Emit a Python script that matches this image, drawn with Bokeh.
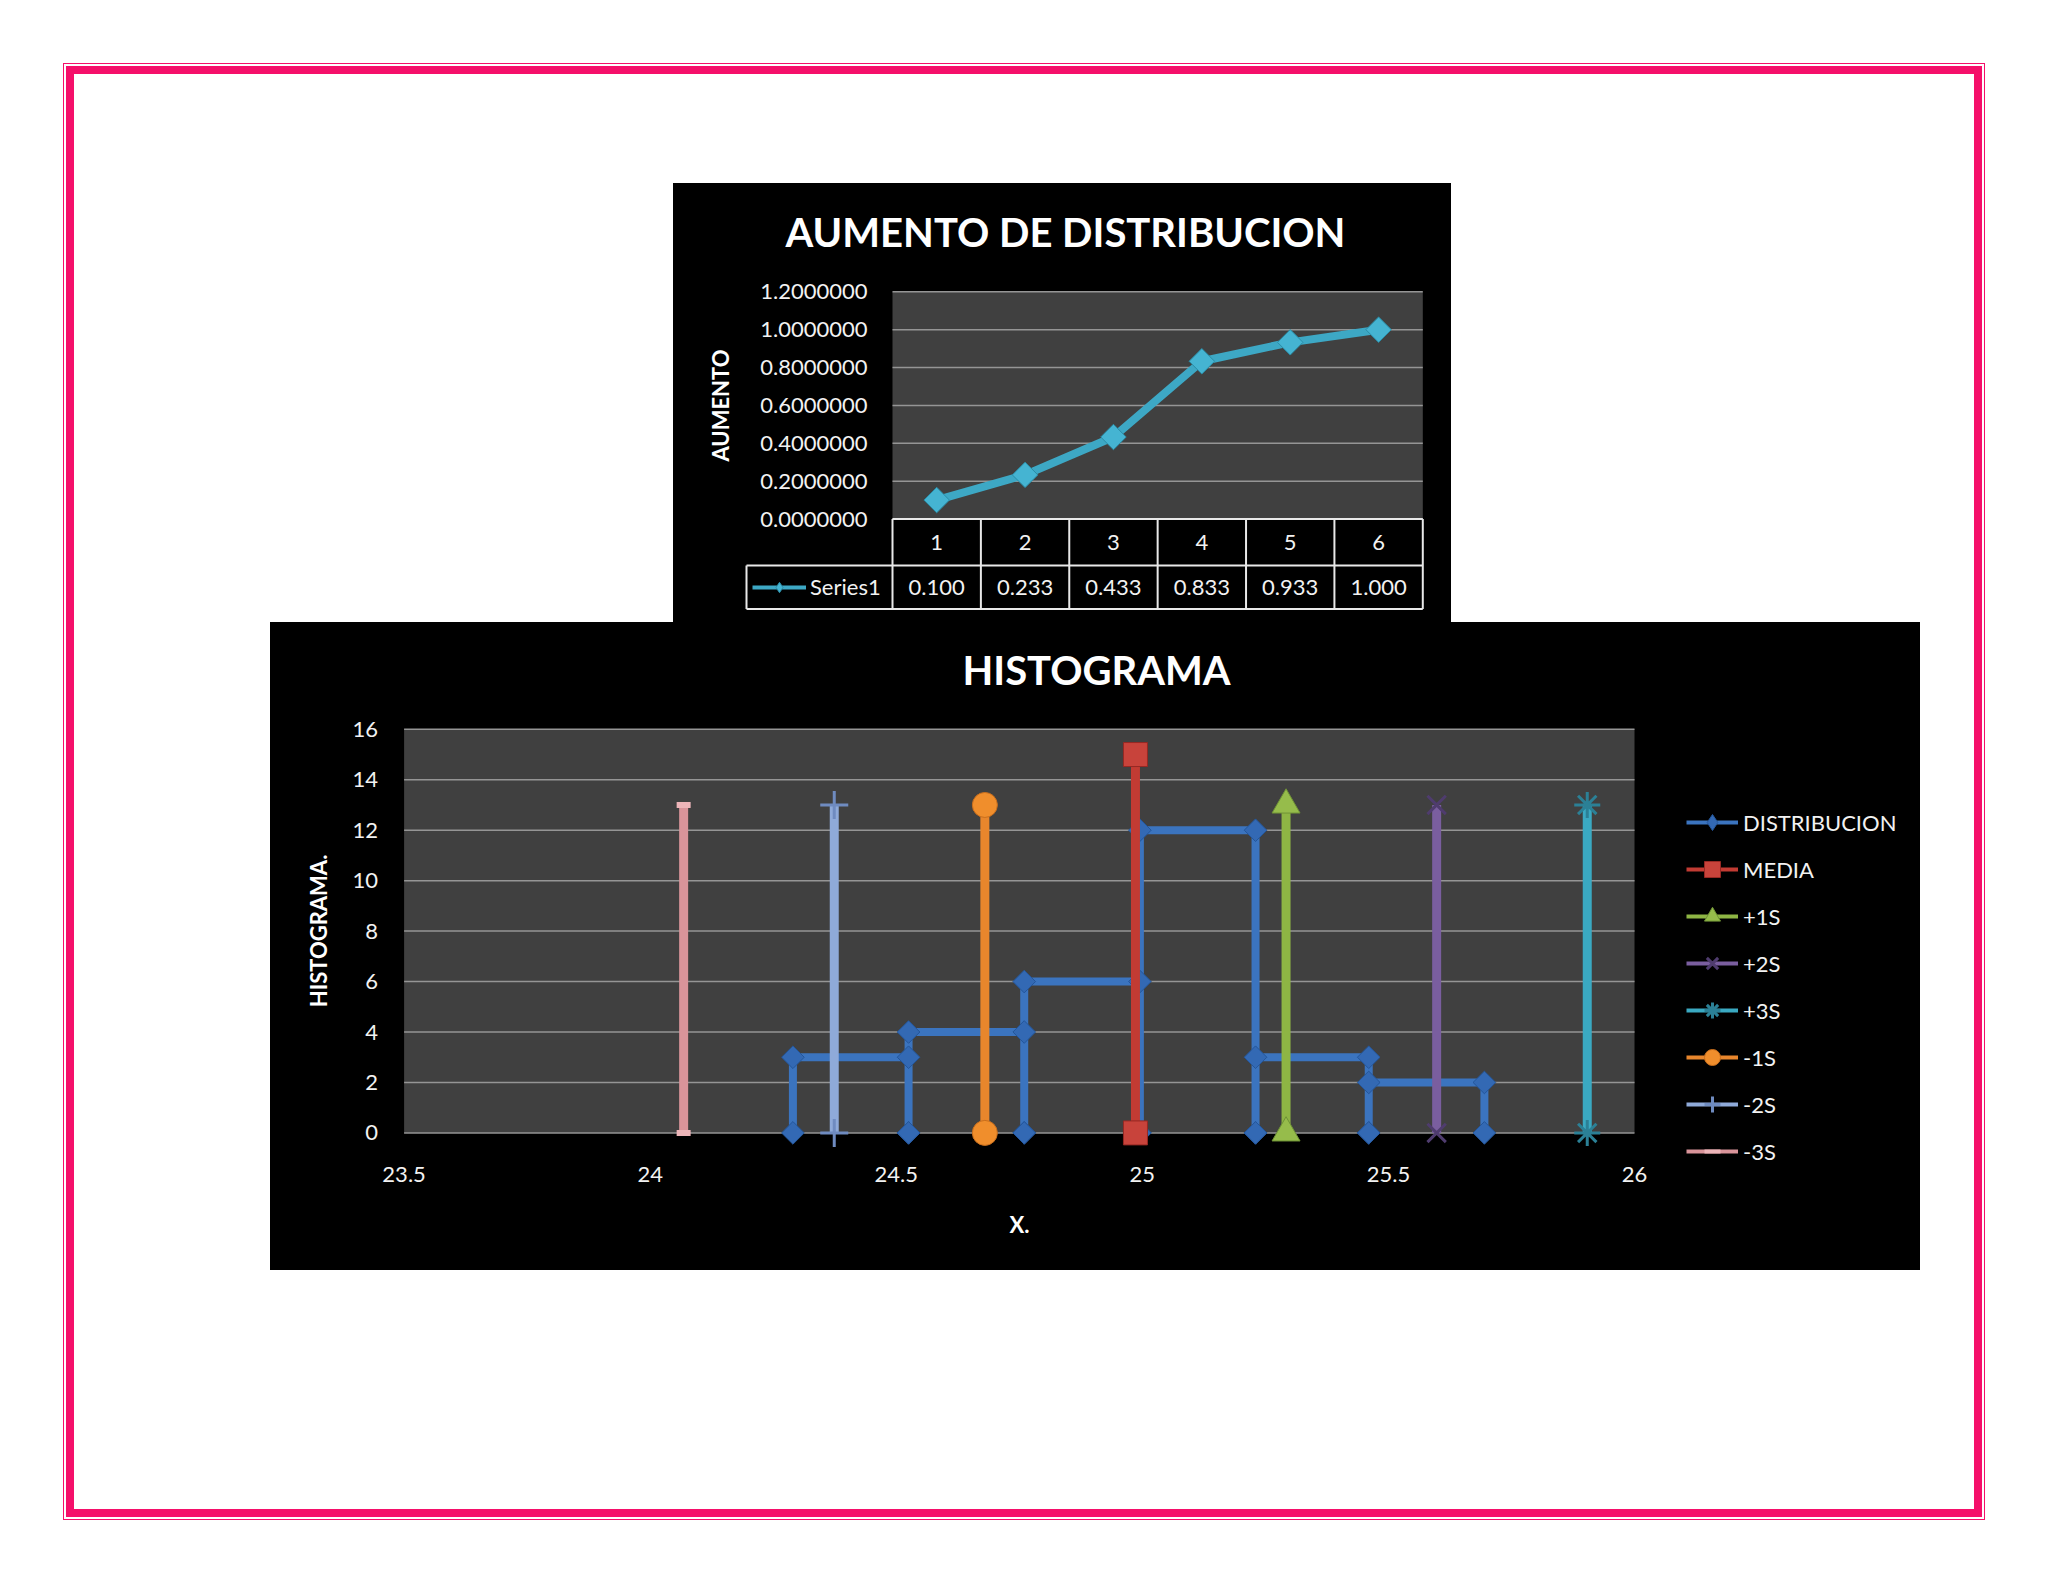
import math
from bokeh.plotting import figure
from bokeh.models import (FixedTicker, PrintfTickFormatter, CustomJSTickFormatter,
                          Legend, LegendItem)
from bokeh.layouts import column
from bokeh.embed import file_html
from bokeh.resources import INLINE
from bokeh.core.properties import value

# ---------------- data: AUMENTO DE DISTRIBUCION ----------------
aum_categories = ["1", "2", "3", "4", "5", "6"]
aum_values = [0.100, 0.233, 0.433, 0.833, 0.933, 1.000]
aum_yticks = [0.0, 0.2, 0.4, 0.6, 0.8, 1.0, 1.2]
aum_series_name = "Series1"

# ---------------- data: HISTOGRAMA ----------------
bin_edges = [24.29, 24.525, 24.76, 24.995, 25.23, 25.46, 25.695]
bin_counts = [3, 4, 6, 12, 3, 2]
ref_names = ["MEDIA", "+1S", "+2S", "+3S", "-1S", "-2S", "-3S"]
ref_x = [24.986, 25.292, 25.598, 25.904, 24.680, 24.374, 24.068]
ref_low = [0, 0, 0, 0, 0, 0, 0]
ref_high = [15, 13, 13, 13, 13, 13, 13]
hist_xticks = [23.5, 24.0, 24.5, 25.0, 25.5, 26.0]
hist_yticks = [0, 2, 4, 6, 8, 10, 12, 14, 16]

# ---------------- style ----------------
FONT = "Lato"
PINK = "#F50F6A"
PLOT_BG = "#404040"
GRID = "#959595"
TXT = "#F2F2F2"
TABLE_LINE = "#E8E8E8"
TEAL_TOP = "#3DA8C5"
NAN = float("nan")

ref_style = {
    "MEDIA": dict(color="#C23B33", marker="square", size=24, lsize=18, fill="#C8433B", edge="#962823", lw=1),
    "+1S": dict(color="#8EB544", marker="triangle", size=28, lsize=22, fill="#96BC4B", edge="#6F9236", lw=1),
    "+2S": dict(color="#7A5E9F", marker="x", size=26, lsize=20, fill="#4F3C6E", edge="#4F3C6E", lw=3),
    "+3S": dict(color="#3AA9C2", marker="asterisk", size=26, lsize=20, fill="#2B8096", edge="#2B8096", lw=3),
    "-1S": dict(color="#E8862C", marker="circle", size=25, lsize=20, fill="#F08E2C", edge="#C96E1C", lw=1),
    "-2S": dict(color="#8FAAD9", marker="cross", size=28, lsize=22, fill="#6F8BC0", edge="#6F8BC0", lw=3),
    "-3S": dict(color="#D9949A", marker="dash", size=14, lsize=12, fill="#EDB5B9", edge="#EDB5B9", lw=6),
}
DIST_COLOR = "#3B74BF"
DIST_MARK = "#3369B4"


def no_align(p):
    if "frame_align" in p.properties():
        p.frame_align = False


def legend_proxy(p, color, marker, size, fill, edge, lw):
    """Legend-only renderers (thin line + marker), drawn nowhere on the chart."""
    pl = p.line(x=[NAN], y=[NAN], line_width=4, color=color)
    pm = p.scatter(x=[NAN], y=[NAN], marker=marker, size=size, fill_color=fill,
                   line_color=edge, line_width=min(lw, 4))
    return [pl, pm]


# ================= top chart =================
T_W, T_H = 778, 439
T_FL, T_FR, T_FT, T_FB = 27, 767, 88, 433          # frame edges (figure-local px)
T_PX0, T_PX1 = 219.0, 749.3                        # x of plot-area left / right
T_PY_TOP, T_PY0 = 108.3, 335.5                     # y of 1.2 and of 0
x_lo, x_hi = 0.5, 6.5
y_top = aum_yticks[-1]
CELL_PX = (T_PX1 - T_PX0) / (x_hi - x_lo)
Y_PX = (T_PY0 - T_PY_TOP) / y_top
t_x0 = x_lo + (T_FL - T_PX0) / CELL_PX
t_x1 = x_lo + (T_FR - T_PX0) / CELL_PX
t_y1 = y_top + (T_PY_TOP - T_FT) / Y_PX
t_y0 = -(T_FB - T_PY0) / Y_PX
TBL_MID = -(382.0 - T_PY0) / Y_PX
TBL_BOT = -(425.5 - T_PY0) / Y_PX
CELL_LEFT = x_lo - (T_PX0 - 73.0) / CELL_PX

p1 = figure(width=T_W, height=T_H, x_range=(t_x0, t_x1), y_range=(t_y0, t_y1),
            output_backend="svg", toolbar_location=None, x_axis_location=None,
            min_border_left=T_FL, min_border_right=T_W - T_FR, min_border_top=T_FT,
            min_border_bottom=T_H - T_FB,
            background_fill_color="black", border_fill_color="black", outline_line_color=None,
            title="AUMENTO DE DISTRIBUCION", styles={"background-color": "black"})
no_align(p1)
p1.title.text_font = FONT
p1.title.text_font_size = "40px"
p1.title.text_font_style = "bold"
p1.title.text_color = "white"
p1.title.align = "left"
p1.title.offset = 85
p1.title.standoff = 31

# plot area background + grid lines
p1.quad(left=[x_lo], right=[x_hi], bottom=[0], top=[y_top], fill_color=PLOT_BG,
        line_color=None, level="image")
p1.segment(x0=[x_lo] * len(aum_yticks), y0=aum_yticks, x1=[x_hi] * len(aum_yticks),
           y1=aum_yticks, line_color=GRID, line_width=1.5, level="underlay")
p1.xgrid.visible = False
p1.ygrid.visible = False

yax = p1.yaxis[0]
yax.fixed_location = x_lo
yax.ticker = FixedTicker(ticks=aum_yticks)
yax.formatter = PrintfTickFormatter(format="%.7f")
yax.bounds = (0, y_top)
yax.axis_line_color = None
yax.major_tick_line_color = None
yax.minor_tick_line_color = None
yax.major_label_standoff = 19
yax.major_label_text_font = FONT
yax.major_label_text_font_size = "22px"
yax.major_label_text_color = TXT
yax.axis_label = "AUMENTO"
yax.axis_label_text_font = FONT
yax.axis_label_text_font_size = "22px"
yax.axis_label_text_font_style = "bold"
yax.axis_label_text_color = "white"
yax.axis_label_standoff = 23

xs = [i + 1 for i in range(len(aum_categories))]
p1.line(x=xs, y=aum_values, line_width=8, color=TEAL_TOP)
p1.scatter(x=xs, y=aum_values, marker="square", angle=math.pi / 4, size=18,
           fill_color="#45B4D2", line_color="#2A8CA6", line_width=1)

# data table under the chart
n = len(aum_categories)
v_edges = [x_lo + i for i in range(n + 1)]
p1.segment(x0=v_edges, y0=[0] * (n + 1), x1=v_edges, y1=[TBL_BOT] * (n + 1),
           line_color=TABLE_LINE, line_width=2)
p1.segment(x0=[x_lo, CELL_LEFT, CELL_LEFT], y0=[0, TBL_MID, TBL_BOT],
           x1=[x_hi] * 3, y1=[0, TBL_MID, TBL_BOT],
           line_color=TABLE_LINE, line_width=2)
p1.segment(x0=[CELL_LEFT], y0=[TBL_MID], x1=[CELL_LEFT], y1=[TBL_BOT],
           line_color=TABLE_LINE, line_width=2)
p1.text(x=xs, y=[TBL_MID / 2] * n, text=aum_categories, text_font=value(FONT),
        text_font_size="22px", text_color=TXT, text_align="center", text_baseline="middle")
p1.text(x=xs, y=[(TBL_MID + TBL_BOT) / 2] * n, text=[f"{v:.3f}" for v in aum_values],
        text_font=value(FONT), text_font_size="22px", text_color=TXT,
        text_align="center", text_baseline="middle")

leg1 = Legend(items=[LegendItem(label=aum_series_name,
                                renderers=legend_proxy(p1, TEAL_TOP, "diamond", 22, "#45B4D2",
                                                       "#2A8CA6", 1))],
              location=(52, 16), padding=0, margin=0, spacing=0,
              glyph_width=54, glyph_height=26, label_height=26, label_standoff=4,
              border_line_color=None, background_fill_alpha=0,
              label_text_font=FONT, label_text_font_size="22px", label_text_color=TXT)
p1.add_layout(leg1, "center")

# ================= histogram =================
H_W, H_H = 1650, 648
H_FL, H_FR, H_FT, H_FB = 20, 1640, 90, 630        # frame edges (figure-local px)
H_PX0, H_PX1 = 133.6, 1364.0                      # x of 23.5 and of 26
H_PY_TOP, H_PY0 = 106.8, 510.4                    # y of 16 and of 0
hx_lo, hx_hi = hist_xticks[0], hist_xticks[-1]
hy_top = hist_yticks[-1]
HX_PX = (H_PX1 - H_PX0) / (hx_hi - hx_lo)
HY_PX = (H_PY0 - H_PY_TOP) / hy_top
h_x0 = hx_lo + (H_FL - H_PX0) / HX_PX
h_x1 = hx_lo + (H_FR - H_PX0) / HX_PX
h_y1 = hy_top + (H_PY_TOP - H_FT) / HY_PX
h_y0 = -(H_FB - H_PY0) / HY_PX

p2 = figure(width=H_W, height=H_H, x_range=(h_x0, h_x1), y_range=(h_y0, h_y1),
            output_backend="svg", toolbar_location=None,
            min_border_left=H_FL, min_border_right=H_W - H_FR, min_border_top=H_FT,
            min_border_bottom=H_H - H_FB,
            background_fill_color="black", border_fill_color="black", outline_line_color=None,
            title="HISTOGRAMA", styles={"background-color": "black"})
no_align(p2)
p2.title.text_font = FONT
p2.title.text_font_size = "40px"
p2.title.text_font_style = "bold"
p2.title.text_color = "white"
p2.title.align = "left"
p2.title.offset = 672
p2.title.standoff = 38

p2.quad(left=[hx_lo], right=[hx_hi], bottom=[0], top=[hy_top], fill_color=PLOT_BG,
        line_color=None, level="image")
p2.segment(x0=[hx_lo] * len(hist_yticks), y0=hist_yticks, x1=[hx_hi] * len(hist_yticks),
           y1=hist_yticks, line_color=GRID, line_width=1.5, level="underlay")
p2.xgrid.visible = False
p2.ygrid.visible = False

for ax in (p2.xaxis[0], p2.yaxis[0]):
    ax.axis_line_color = None
    ax.major_tick_line_color = None
    ax.minor_tick_line_color = None
    ax.major_label_text_font = FONT
    ax.major_label_text_font_size = "22px"
    ax.major_label_text_color = TXT
    ax.axis_label_text_font = FONT
    ax.axis_label_text_font_size = "22px"
    ax.axis_label_text_font_style = "bold"
    ax.axis_label_text_color = "white"

xa = p2.xaxis[0]
xa.fixed_location = 0
xa.ticker = FixedTicker(ticks=hist_xticks)
xa.bounds = (hx_lo, hx_hi)
xa.formatter = CustomJSTickFormatter(code="return String(Math.round(tick * 10) / 10)")
xa.major_label_standoff = 28
xa.axis_label = "X."
xa.axis_label_standoff = 26

ya = p2.yaxis[0]
ya.fixed_location = hx_lo
ya.ticker = FixedTicker(ticks=hist_yticks)
ya.bounds = (0, hy_top)
ya.major_label_standoff = 20
ya.axis_label = "HISTOGRAMA."
ya.axis_label_standoff = 18

# DISTRIBUCION outline (histogram bars as a path)
dist_x, dist_y = [], []
for i, h in enumerate(bin_counts):
    a, b = bin_edges[i], bin_edges[i + 1]
    dist_x += [a, a, b, b]
    dist_y += [0, h, h, 0]

legend_items = []
p2.line(x=dist_x, y=dist_y, line_width=8, color=DIST_COLOR)
p2.scatter(x=dist_x, y=dist_y, marker="square", angle=math.pi / 4, size=16,
           fill_color=DIST_MARK, line_color="#24569A", line_width=1)
legend_items.append(LegendItem(label="DISTRIBUCION",
                               renderers=legend_proxy(p2, DIST_COLOR, "diamond", 22, DIST_MARK,
                                                      "#24569A", 1)))

for name, xv, lo, hi in zip(ref_names, ref_x, ref_low, ref_high):
    st = ref_style[name]
    p2.line(x=[xv, xv], y=[lo, hi], line_width=9, color=st["color"])
    p2.scatter(x=[xv, xv], y=[lo, hi], marker=st["marker"], size=st["size"],
               fill_color=st["fill"], line_color=st["edge"], line_width=st["lw"])
    legend_items.append(LegendItem(label=name,
                                   renderers=legend_proxy(p2, st["color"], st["marker"],
                                                          st["lsize"], st["fill"], st["edge"],
                                                          st["lw"])))

leg2 = Legend(items=legend_items, location=(1396, 81), padding=0, margin=0, spacing=7,
              glyph_width=52, glyph_height=40, label_height=40, label_standoff=5,
              border_line_color=None, background_fill_alpha=0,
              label_text_font=FONT, label_text_font_size="22px", label_text_color=TXT)
p2.add_layout(leg2, "center")

# ================= page =================
p1.margin = (117, 0, 0, 607)
p2.margin = (0, 0, 0, 204)
root = column(p1, p2, width=1916, height=1451, margin=(66, 0, 0, 66),
              styles={"box-shadow": f"inset 0 0 0 8px {PINK}",
                      "outline": f"1.5px solid {PINK}",
                      "outline-offset": "2px",
                      "background-color": "white"})

open("out.html", "w").write(file_html(root, INLINE))
